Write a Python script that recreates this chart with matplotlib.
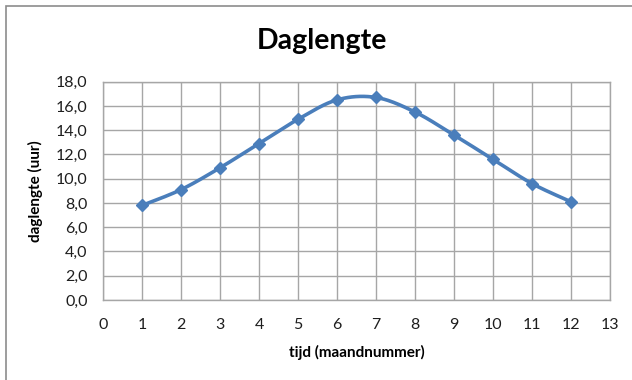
import numpy as np
import matplotlib
matplotlib.use("Agg")
import matplotlib.pyplot as plt
from matplotlib.ticker import FuncFormatter, MultipleLocator
from matplotlib.patches import Rectangle

plt.rcParams['font.family'] = ['Lato', 'DejaVu Sans']

# maandnummer en daglengte in uren
maand = [1, 2, 3, 4, 5, 6, 7, 8, 9, 10, 11, 12]
daglengte = [7.8, 9.1, 10.9, 12.9, 14.9, 16.5, 16.7, 15.5, 13.6, 11.6, 9.6, 8.1]

blauw = '#4a7ebb'
raster = '#a6a6a6'


def smooth(x, y, n=30):
    # Catmull-Rom curve through the points (like a smoothed line in a spreadsheet)
    x = np.asarray(x, float)
    y = np.asarray(y, float)
    px = np.concatenate([[x[0]], x, [x[-1]]])
    py = np.concatenate([[y[0]], y, [y[-1]]])
    xs, ys = [], []
    t = np.linspace(0, 1, n)
    for i in range(1, len(px) - 2):
        p0, p1, p2, p3 = [np.array([px[k], py[k]]) for k in (i - 1, i, i + 1, i + 2)]
        c1 = p1 + (p2 - p0) / 6
        c2 = p2 - (p3 - p1) / 6
        b = ((1 - t) ** 3)[:, None] * p1 + (3 * (1 - t) ** 2 * t)[:, None] * c1 \
            + (3 * (1 - t) * t ** 2)[:, None] * c2 + (t ** 3)[:, None] * p2
        xs.extend(b[:, 0])
        ys.extend(b[:, 1])
    return xs, ys


fig = plt.figure(figsize=(6.32, 3.80), dpi=100)
fig.patches.append(Rectangle((6 / 632, -0.01), 1.0, 1 - 6 / 380 + 0.01,
                             transform=fig.transFigure, fill=False,
                             edgecolor='#8c8c8c', linewidth=1.2))

ax = fig.add_axes([103 / 632, 80 / 380, 507 / 632, 218.3 / 380])
ax.set_xlim(0, 13)
ax.set_ylim(0, 18)
ax.xaxis.set_major_locator(MultipleLocator(1))
ax.yaxis.set_major_locator(MultipleLocator(2))
ax.yaxis.set_major_formatter(FuncFormatter(lambda v, p: f"{v:.1f}".replace('.', ',')))
ax.grid(True, color=raster, linewidth=1.0)
ax.set_axisbelow(True)
for s in ax.spines.values():
    s.set_color(raster)
    s.set_linewidth(1.0)
ax.tick_params(length=0, labelsize=11.5, colors='#1e1e1e')
ax.tick_params(axis='y', pad=11)
ax.tick_params(axis='x', pad=13)

sx, sy = smooth(maand, daglengte)
ax.plot(sx, sy, color=blauw, linewidth=2.6, solid_capstyle='round')
ax.plot(maand, daglengte, linestyle='none', marker='D', markersize=6,
        color=blauw)

ax.set_xlabel('tijd (maandnummer)', fontsize=11, fontweight='bold', labelpad=9)
ax.set_ylabel('daglengte (uur)', fontsize=11, fontweight='bold', labelpad=9)
fig.text(322 / 632, 1 - 41 / 380, 'Daglengte', fontsize=20.5, fontweight='bold',
         ha='center', va='center')

fig.savefig('out.png', dpi=100)
